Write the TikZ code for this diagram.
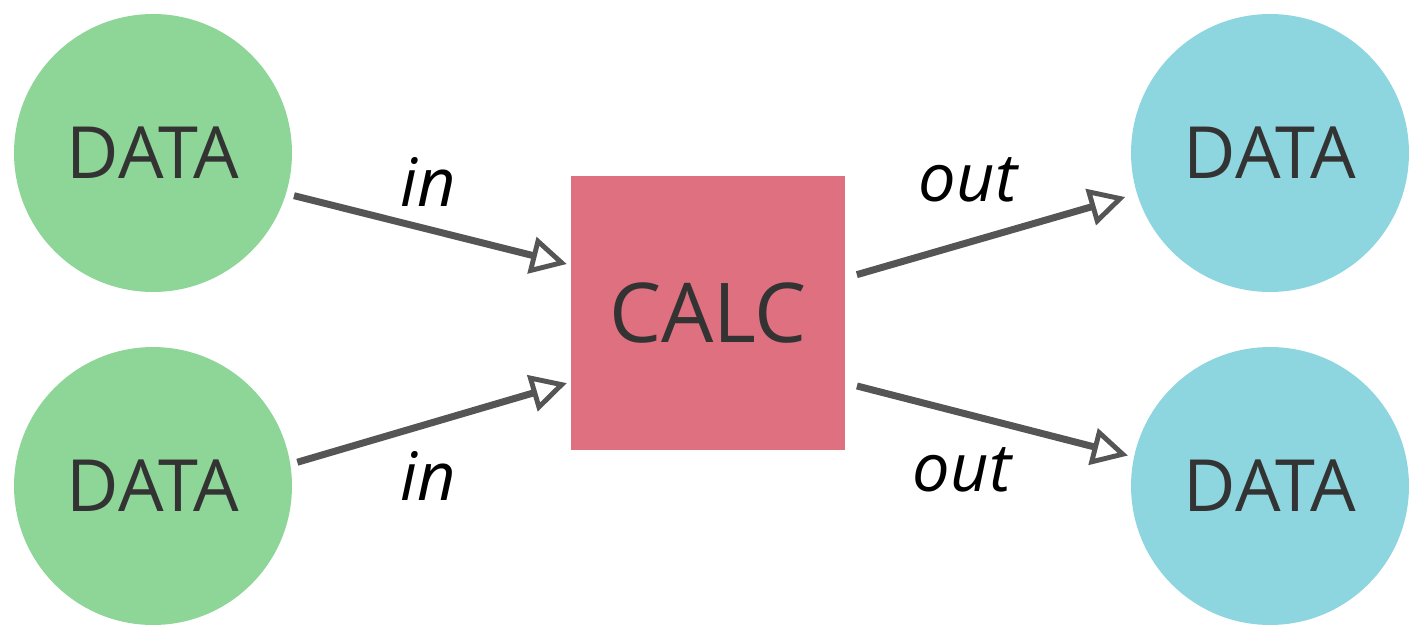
\documentclass[tikz,border=0pt]{standalone}
\usepackage{fontspec}
\setmainfont{Open Sans}
\usetikzlibrary{arrows.meta, positioning}
\definecolor{inGreen}{HTML}{8ED598}
\definecolor{outCyan}{HTML}{8DD5DF}
\definecolor{calcRed}{HTML}{DF707F}
\definecolor{txtGray}{HTML}{333333}
\definecolor{lineGray}{HTML}{555555}
\tikzset{
  datain/.style = {circle, fill=inGreen, minimum size=5.56cm, inner sep=0pt, text=txtGray, font=\fontsize{41}{46}\selectfont},
  dataout/.style = {circle, fill=outCyan, minimum size=5.56cm, inner sep=0pt, text=txtGray, font=\fontsize{41}{46}\selectfont},
  calcbox/.style = {rectangle, fill=calcRed, minimum size=5.48cm, inner sep=0pt, text=txtGray, font=\fontsize{47}{52}\selectfont},
  lbl/.style = {font=\fontsize{38}{43}\selectfont\itshape, inner sep=0pt},
  arr/.style = {draw=lineGray, line width=0.14cm, -{Triangle[open, fill=white, length=0.72cm, width=0.74cm, line width=2.8pt]}}
}

\begin{document}
\begin{tikzpicture}[x=0.02cm, y=-0.02cm]
\useasboundingbox (0,0) rectangle (1423,639);
% Inputs
\node[datain] (dinA) at (153,153) {DATA};
\node[datain] (dinB) at (153,486) {DATA};

% Calculation
\node[calcbox] (calc) at (708,313) {CALC};

% Outputs
\node[dataout] (doutA) at (1270,153) {DATA};
\node[dataout] (doutB) at (1270,486) {DATA};

% ----- ARROWS -----
\draw[arr, shorten <=0.16cm, shorten >=0.08cm] (dinA.-17) -- ([yshift=0.96cm]calc.west);
\draw[arr, shorten <=0.14cm, shorten >=0.08cm] (dinB.9) -- ([yshift=-1.38cm]calc.west);
\draw[arr, shorten <=0.24cm, shorten >=0.24cm] ([yshift=0.70cm]calc.east) -- (doutA.-163);
\draw[arr, shorten <=0.24cm, shorten >=0.12cm] ([yshift=-1.40cm]calc.east) -- (doutB.168);

% ----- LABELS -----
\node[lbl] (inA) at (428,182) {in};
\node[lbl] (inB) at (428,476) {in};
\node[lbl] (outA) at (968,180) {out};
\node[lbl] (outB) at (962,470) {out};
\end{tikzpicture}
\end{document}
